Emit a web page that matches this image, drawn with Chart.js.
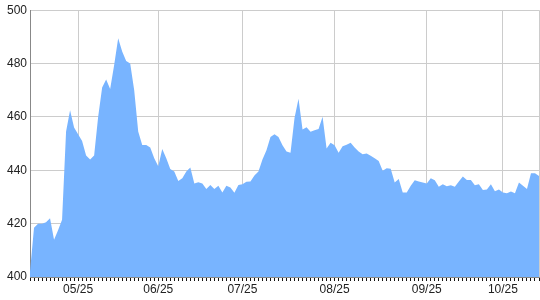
<!DOCTYPE html>
<html>
<head>
<meta charset="utf-8">
<script src="https://cdn.jsdelivr.net/npm/chart.js@4"></script>
<style>
  html, body { margin: 0; padding: 0; background: #fff; }
  #wrap { width: 540px; height: 300px; }
</style>
</head>
<body>
<div id="wrap"><canvas id="chart"></canvas></div>
<script>
// daily values
const values = [
  402, 418.5, 420, 420, 420.5, 422, 414, 417.5, 421.5, 454.5,
  462.5, 456, 453.5, 451, 445.5, 444, 445.5, 460, 471, 474,
  470.5, 479.5, 489.5, 484.5, 481, 480, 470, 454.5, 449.5, 449.5,
  448.5, 444.5, 441.5, 448, 444.5, 440.5, 439.5, 436, 437, 439.5,
  441, 435, 435.5, 435, 433, 434.5, 433, 434.2, 431.7, 434.2,
  433.5, 431.6, 434.5, 434.8, 435.7, 435.8, 438, 439.5, 444, 447.5,
  452.5, 453.5, 452.5, 449.4, 447, 446.6, 459.6, 466.8, 455.3, 456.1,
  454.4, 455, 455.5, 460.1, 448.2, 450.3, 449.4, 446.6, 449, 449.6,
  450.3, 448.5, 447, 446, 446.3, 445.4, 444.5, 443.5, 439.8, 440.8,
  440.6, 435.4, 436.7, 431.7, 431.7, 434.2, 436.3, 435.8, 435.4, 435,
  437, 436.3, 433.8, 434.8, 434, 434.4, 433.8, 435.8, 437.7, 436.4,
  436.4, 434.4, 434.8, 432.6, 432.8, 434.8, 432.1, 432.8, 431.7, 431.4,
  432, 431.4, 435.4, 434.2, 433, 438.9, 438.9, 437.9
];
const tickLabels = ["05/25", "06/25", "07/25", "08/25", "09/25", "10/25"];
const tickAt = [12, 32, 53, 76, 99, 118];

const categories = values.map((v, i) => {
  const k = tickAt.indexOf(i);
  return k >= 0 ? tickLabels[k] : "";
});

const font = { family: "Arial, 'Liberation Sans', sans-serif", size: 12 };

new Chart(document.getElementById("chart"), {
  type: "line",
  data: {
    labels: categories,
    datasets: [{
      data: values,
      fill: "start",
      backgroundColor: "#78b4ff",
      borderWidth: 0,
      pointRadius: 0,
      tension: 0,
    }],
  },
  options: {
    responsive: true,
    maintainAspectRatio: false,
    animation: false,
    layout: { padding: { top: 8, right: 1 } },
    plugins: { legend: { display: false }, tooltip: { enabled: false } },
    scales: {
      x: {
        offset: false,
        grid: {
          color: (ctx) => (ctx.tick && ctx.tick.label) || ctx.index === values.length - 1 ? "#cccccc" : "rgba(0,0,0,0)",
          tickColor: "#111",
          tickLength: 4,
        },
        border: { color: "#888" },
        ticks: { autoSkip: false, maxRotation: 0, color: "#222", font: font, padding: 1 },
        afterFit: (s) => { s.height = 23; },
      },
      y: {
        min: 400,
        max: 500,
        ticks: { stepSize: 20, color: "#222", font: font, padding: 3 },
        grid: { color: "#cccccc", drawTicks: false },
        border: { color: "#888" },
        afterFit: (s) => { s.width = 30; },
      },
    },
  },
});
</script>
</body>
</html>
